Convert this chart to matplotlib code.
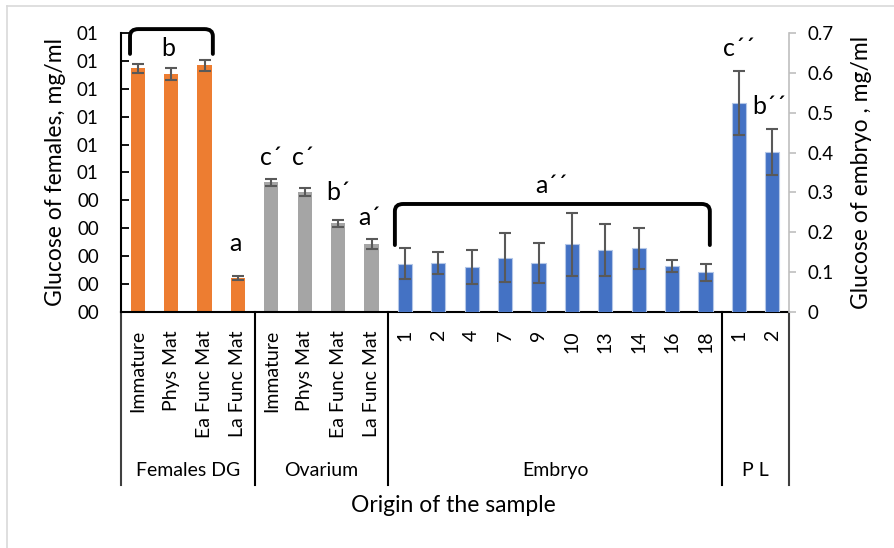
"""Glucose of females and embryo by sample origin."""
import matplotlib
matplotlib.use("Agg")
import matplotlib.pyplot as plt
import numpy as np
from matplotlib.patches import PathPatch
from matplotlib.path import Path
from matplotlib.ticker import FuncFormatter, MultipleLocator
import matplotlib.transforms as mtransforms

plt.rcParams["font.family"] = ["Lato", "DejaVu Sans"]

females_labels = ["Immature", "Phys Mat", "Ea Func Mat", "La Func Mat"]
females_vals = [0.873, 0.853, 0.885, 0.122]
females_err = [0.015, 0.021, 0.020, 0.007]

ovarium_labels = ["Immature", "Phys Mat", "Ea Func Mat", "La Func Mat"]
ovarium_vals = [0.465, 0.430, 0.318, 0.244]
ovarium_err = [0.012, 0.013, 0.012, 0.017]

embryo_labels = ["1", "2", "4", "7", "9", "10", "13", "14", "16", "18"]
embryo_vals = [0.121, 0.123, 0.113, 0.136, 0.123, 0.170, 0.156, 0.160, 0.116, 0.100]
embryo_err = [0.039, 0.028, 0.042, 0.061, 0.051, 0.079, 0.065, 0.052, 0.015, 0.021]

pl_labels = ["1", "2"]
pl_vals = [0.524, 0.401]
pl_err = [0.081, 0.057]

groups = ["Females DG", "Ovarium", "Embryo", "P L"]

W, H = 895, 548
fig = plt.figure(figsize=(W / 100, H / 100), dpi=100)
ax = fig.add_axes([121 / W, 1 - 312 / H, (789 - 121) / W, (312 - 33) / H])
ax2 = ax.twinx()

n_f, n_o, n_e, n_p = len(females_vals), len(ovarium_vals), len(embryo_vals), len(pl_vals)
x_all = np.arange(n_f + n_o + n_e + n_p)
x_f = x_all[:n_f]
x_o = x_all[n_f:n_f + n_o]
x_e = x_all[n_f + n_o:n_f + n_o + n_e]
x_p = x_all[n_f + n_o + n_e:]

bw = 0.42
ekw = dict(ecolor="#595959", elinewidth=1.5, capsize=4, capthick=1.5)
ax.bar(x_f, females_vals, bw, color="#ED7D31", yerr=females_err, error_kw=ekw, zorder=2)
ax.bar(x_o, ovarium_vals, bw, color="#A5A5A5", yerr=ovarium_err, error_kw=ekw, zorder=2)
ax2.bar(x_e, embryo_vals, bw, color="#4472C4", edgecolor="#B4C7E7", linewidth=0.8,
        yerr=embryo_err, error_kw=ekw, zorder=2)
ax2.bar(x_p, pl_vals, bw, color="#4472C4", edgecolor="#B4C7E7", linewidth=0.8,
        yerr=pl_err, error_kw=ekw, zorder=2)

ax.set_xlim(-0.5, len(x_all) - 0.5)
ax.set_ylim(0, 1.0)
ax2.set_ylim(0, 0.7)

ax.yaxis.set_major_locator(MultipleLocator(0.1))
ax.yaxis.set_major_formatter(FuncFormatter(lambda v, p: f"{int(np.floor(v + 0.5 + 1e-9)):02d}"))
ax2.yaxis.set_major_locator(MultipleLocator(0.1))
ax2.yaxis.set_major_formatter(FuncFormatter(lambda v, p: "0" if abs(v) < 1e-9 else f"{v:.1f}"))

for s in ["top", "right"]:
    ax.spines[s].set_visible(False)
ax2.spines["top"].set_visible(False)
ax2.spines["left"].set_visible(False)
ax2.spines["bottom"].set_visible(False)
ax.spines["left"].set_linewidth(1.5)
ax.spines["bottom"].set_linewidth(1.5)
ax2.spines["right"].set_color("#BFBFBF")
ax2.spines["right"].set_linewidth(1.2)

ax.tick_params(axis="y", direction="in", length=6, width=1.3, labelsize=13.5, pad=16)
ax2.tick_params(axis="y", direction="out", length=5, width=1.2, color="#BFBFBF",
                labelsize=13.5, pad=8)

all_labels = females_labels + ovarium_labels + embryo_labels + pl_labels
ax.set_xticks(x_all)
ax.set_xticklabels(all_labels, rotation=90, fontsize=14, va="top")
ax.tick_params(axis="x", direction="in", length=4, width=1.3, pad=13)

ax.set_ylabel("Glucose of females, mg/ml", fontsize=16.5)
ax2.set_ylabel("Glucose of embryo , mg/ml", fontsize=16.5)
for a, xc in ((ax, (56 - 121) / 668), (ax2, (862 - 121) / 668)):
    a.yaxis.label.set_verticalalignment("center")
    a.yaxis.label.set_horizontalalignment("center")
    a.yaxis.set_label_coords(xc, 0.5)

# group separators and group labels
trans = mtransforms.blended_transform_factory(ax.transData, ax.transAxes)
sizes = [n_f, n_o, n_e, n_p]
edges = np.concatenate([[0], np.cumsum(sizes)]) - 0.5
for i, xe in enumerate(edges):
    col = "#404040" if i in (0, len(edges) - 1) else "black"
    ax.plot([xe, xe], [0, -0.62], transform=trans, color=col, lw=1.5, clip_on=False)
for g, a, b in zip(groups, edges[:-1], edges[1:]):
    ax.text((a + b) / 2, -0.568, g, transform=trans, ha="center", va="center", fontsize=14)

fig.text(453 / W, 1 - 505 / H, "Origin of the sample", ha="center", va="center", fontsize=16.5)


def bracket(axis, x0, x1, ytop, ybot, r):
    verts = [(x0, ybot), (x0, ytop - r[1]), (x0, ytop), (x0 + r[0], ytop),
             (x1 - r[0], ytop), (x1, ytop), (x1, ytop - r[1]), (x1, ybot)]
    codes = [Path.MOVETO, Path.LINETO, Path.CURVE3, Path.CURVE3,
             Path.LINETO, Path.CURVE3, Path.CURVE3, Path.LINETO]
    axis.add_patch(PathPatch(Path(verts, codes), fill=False, lw=2.8, color="black",
                             capstyle="round", clip_on=False, zorder=5))


bracket(ax, -0.23, 2.25, 1.014, 0.925, (0.25, 0.025))
bracket(ax2, 7.70, 17.13, 0.271, 0.168, (0.25, 0.018))

tk = dict(ha="center", va="center", fontsize=18)
ax.text(0.91, 0.946, "b", **tk)
ax.text(2.94, 0.247, "a", **tk)
ax.text(3.98, 0.552, "c´", **tk)
ax.text(4.94, 0.552, "c´", **tk)
ax.text(6.0, 0.427, "b´", **tk)
ax.text(6.95, 0.34, "a´", **tk)
ax2.text(12.38, 0.318, "a´´", **tk)
ax2.text(18.0, 0.662, "c´´", **tk)
ax2.text(18.9, 0.516, "b´´", **tk)

# chart area border (only top and left visible)
fig.add_artist(plt.Line2D([7 / W, 7 / W], [0, 1 - 6 / H], color="#D9D9D9", lw=1.2))
fig.add_artist(plt.Line2D([7 / W, 1], [1 - 6 / H, 1 - 6 / H], color="#D9D9D9", lw=1.2))

fig.savefig("out.png", dpi=100)
